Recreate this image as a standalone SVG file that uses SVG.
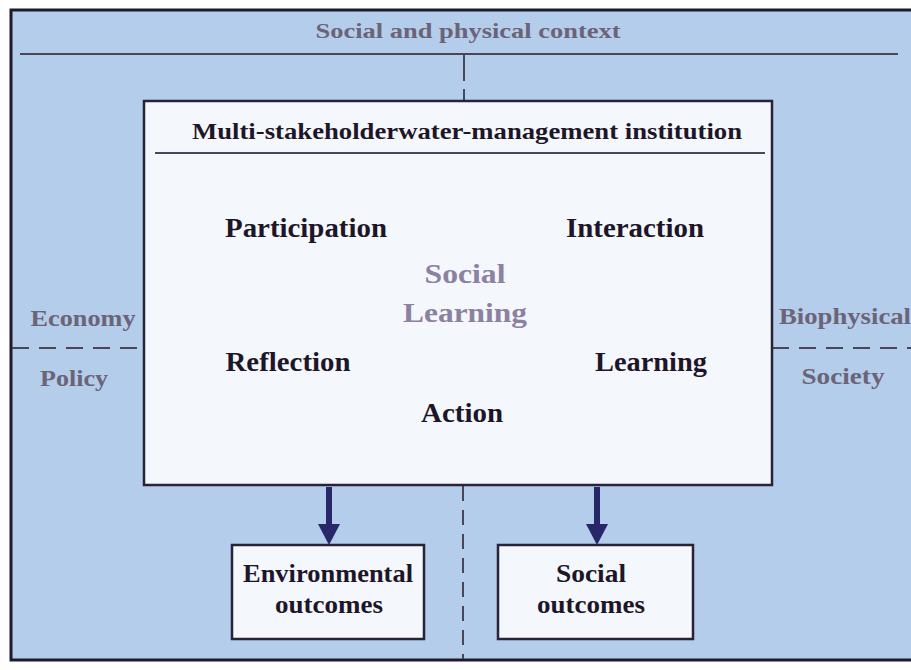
<svg xmlns="http://www.w3.org/2000/svg" width="911" height="670" viewBox="0 0 911 670">
<style>
text{font-family:"Liberation Serif","Tinos","Times New Roman",Times,serif;font-weight:700}
.ctx{fill:#6b6478}
.dark{fill:#1e1628}
.sl{fill:#8c81a0}
.box{fill:#f4f7fb;stroke:#2a2238;stroke-width:2.5}
.ln{stroke:#4a4658;stroke-width:2;fill:none}
.dash{stroke:#4a4658;stroke-width:2;fill:none;stroke-dasharray:17 10}
.shaft{stroke:#27276a;stroke-width:6;fill:none}
.head{fill:#27276a}
</style>
<rect x="0" y="0" width="911" height="670" fill="#ffffff"/>
<g id="context">
<rect x="11" y="10" width="920" height="650" fill="#b3cdea" stroke="#1e1a2c" stroke-width="3"/>
<text class="ctx" x="468" y="38" font-size="22" text-anchor="middle" textLength="305" lengthAdjust="spacingAndGlyphs">Social and physical context</text>
<line class="ln" x1="20" y1="54" x2="898" y2="54"/>
<text class="ctx" x="83" y="326" font-size="23" text-anchor="middle" textLength="105" lengthAdjust="spacingAndGlyphs">Economy</text>
<text class="ctx" x="74" y="386" font-size="23" text-anchor="middle" textLength="68" lengthAdjust="spacingAndGlyphs">Policy</text>
<text class="ctx" x="845" y="324" font-size="23" text-anchor="middle" textLength="132" lengthAdjust="spacingAndGlyphs">Biophysical</text>
<text class="ctx" x="843" y="384" font-size="23" text-anchor="middle" textLength="83" lengthAdjust="spacingAndGlyphs">Society</text>
</g>
<g id="connectors">
<line class="dash" x1="464" y1="55" x2="464" y2="101" style="stroke-dasharray:26 8"/>
<line class="dash" x1="463" y1="486" x2="463" y2="659" style="stroke-dasharray:15 9"/>
<line class="dash" x1="12" y1="348" x2="144" y2="348"/>
<line class="dash" x1="772" y1="348" x2="911" y2="348"/>
<line class="shaft" x1="329" y1="487" x2="329" y2="527"/>
<polygon class="head" points="318,524 340,524 329,545"/>
<line class="shaft" x1="597" y1="487" x2="597" y2="527"/>
<polygon class="head" points="586,524 608,524 597,545"/>
</g>
<g id="institution">
<rect class="box" x="144" y="101" width="628" height="384"/>
<text class="dark" x="467" y="139" font-size="24" text-anchor="middle" textLength="550" lengthAdjust="spacingAndGlyphs">Multi-stakeholderwater-management institution</text>
<line class="ln" x1="155" y1="153" x2="765" y2="153" stroke="#3a3448"/>
<text class="dark" x="306" y="237" font-size="27" text-anchor="middle" textLength="162" lengthAdjust="spacingAndGlyphs">Participation</text>
<text class="dark" x="635" y="237" font-size="27" text-anchor="middle" textLength="138" lengthAdjust="spacingAndGlyphs">Interaction</text>
<text class="sl" x="465" y="283" font-size="28" text-anchor="middle" textLength="81" lengthAdjust="spacingAndGlyphs">Social</text>
<text class="sl" x="465" y="322" font-size="28" text-anchor="middle" textLength="124" lengthAdjust="spacingAndGlyphs">Learning</text>
<text class="dark" x="288" y="371" font-size="27" text-anchor="middle" textLength="125" lengthAdjust="spacingAndGlyphs">Reflection</text>
<text class="dark" x="651" y="371" font-size="27" text-anchor="middle" textLength="112" lengthAdjust="spacingAndGlyphs">Learning</text>
<text class="dark" x="462" y="422" font-size="27" text-anchor="middle" textLength="82" lengthAdjust="spacingAndGlyphs">Action</text>
</g>
<g id="env-outcomes">
<rect class="box" x="232" y="545" width="192" height="94"/>
<text class="dark" x="328" y="582" font-size="25" text-anchor="middle" textLength="170" lengthAdjust="spacingAndGlyphs">Environmental</text>
<text class="dark" x="329" y="613" font-size="25" text-anchor="middle" textLength="108" lengthAdjust="spacingAndGlyphs">outcomes</text>
</g>
<g id="social-outcomes">
<rect class="box" x="498" y="545" width="195" height="94"/>
<text class="dark" x="591" y="582" font-size="25" text-anchor="middle" textLength="70" lengthAdjust="spacingAndGlyphs">Social</text>
<text class="dark" x="591" y="613" font-size="25" text-anchor="middle" textLength="108" lengthAdjust="spacingAndGlyphs">outcomes</text>
</g>
</svg>
